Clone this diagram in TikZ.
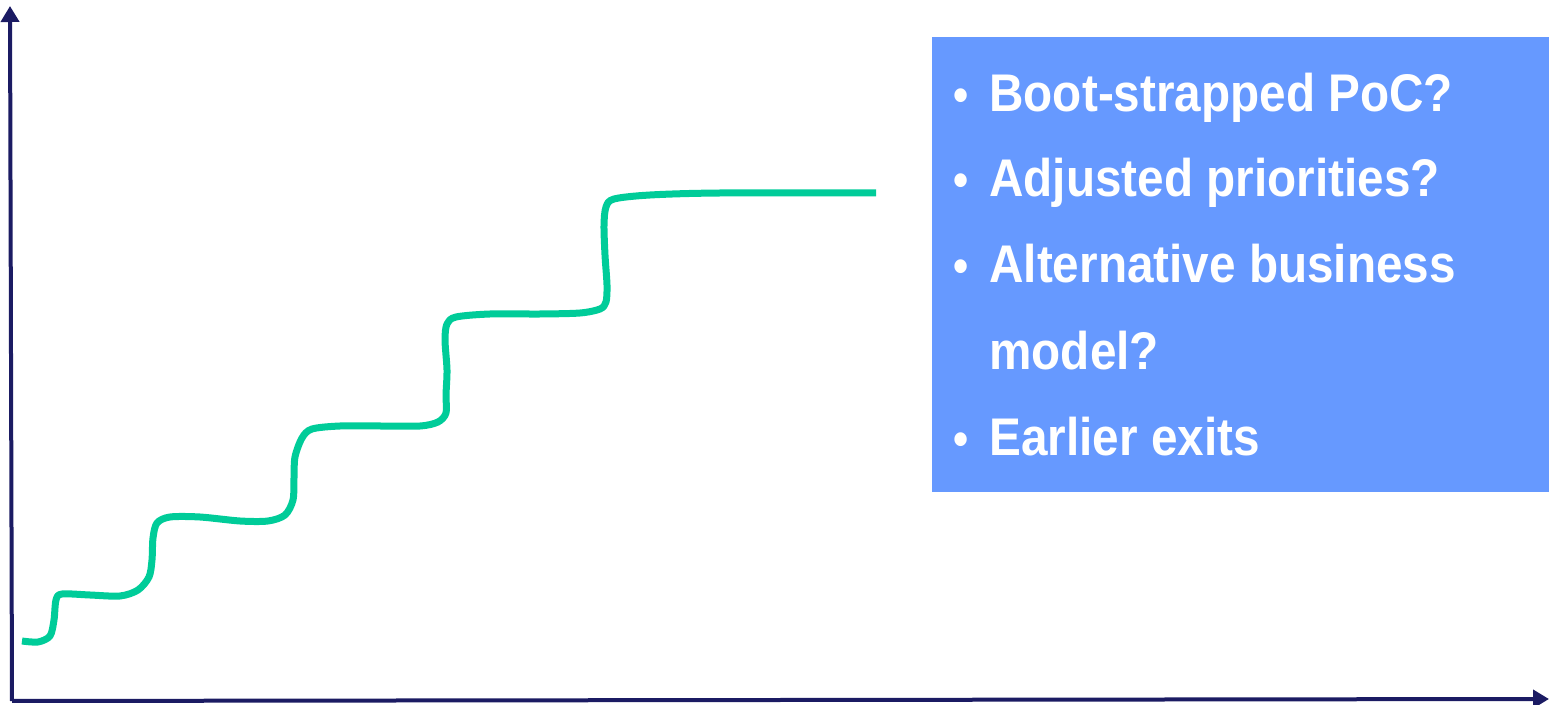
\documentclass[tikz,border=0pt]{standalone}
\usepackage{fontspec}
\usetikzlibrary{arrows.meta}
\newfontfamily\bfont[FakeStretch=0.9]{Liberation Sans Bold}
\definecolor{axiscol}{RGB}{27,27,99}
\definecolor{curvecol}{RGB}{0,204,153}
\definecolor{boxcol}{RGB}{102,153,255}
\tikzset{
  axis/.style={draw=axiscol, line width=2pt, -{Triangle[length=8pt,width=9pt]}},
  growth/.style={draw=curvecol, line width=3.5pt, line join=round},
  bul/.style={anchor=base west, text=white, inner sep=0pt, font=\bfont\fontsize{24}{30}\selectfont},
  item/.style={anchor=base west, text=white, inner sep=0pt, font=\bfont\fontsize{26.5}{30}\selectfont}
}
\begin{document}
\begin{tikzpicture}[x=0.5pt,y=-0.5pt]
\useasboundingbox (0,0) rectangle (1549,705);
% axes
\coordinate (origin) at (12,701);
\coordinate (ytop) at (10,6);
\coordinate (xend) at (1549,699);
\draw[axis] (origin) -- (ytop);
\draw[axis] (origin) -- (xend);
% growth curve
\draw[growth] plot[smooth, tension=0.5] coordinates {
(22,641) (38,642) (50,636) (54,620) (56,600) (62,594) (90,595) (120,596)
(138,590) (149,577) (152,560) (153,538) (157,523) (170,517) (200,517)
(240,521) (268,521) (285,515) (293,500) (294,478) (295,457) (302,438)
(312,429) (340,426) (380,426) (420,426) (438,422) (446,413) (446,395)
(447,370) (445,340) (447,324) (456,317) (490,314) (540,314) (580,313)
(600,309) (606,302) (607,285) (605,255) (604,225) (606,207) (614,199)
(650,195) (720,193) (876,193)};
% text box
\node[fill=boxcol, inner sep=0pt, minimum width=308.5pt, minimum height=227.5pt, anchor=north west] (box) at (932,37) {};
\node[bul] (b1) at (953,112) {•};
\node[item] (t1) at (989,112) {Boot-strapped PoC?};
\node[bul] (b2) at (953,197) {•};
\node[item] (t2) at (989,197) {Adjusted priorities?};
\node[bul] (b3) at (953,283) {•};
\node[item] (t3) at (989,283) {Alternative business};
\node[item] (t3b) at (989,370) {model?};
\node[bul] (b4) at (953,456) {•};
\node[item] (t4) at (989,456) {Earlier exits};
\end{tikzpicture}
\end{document}
